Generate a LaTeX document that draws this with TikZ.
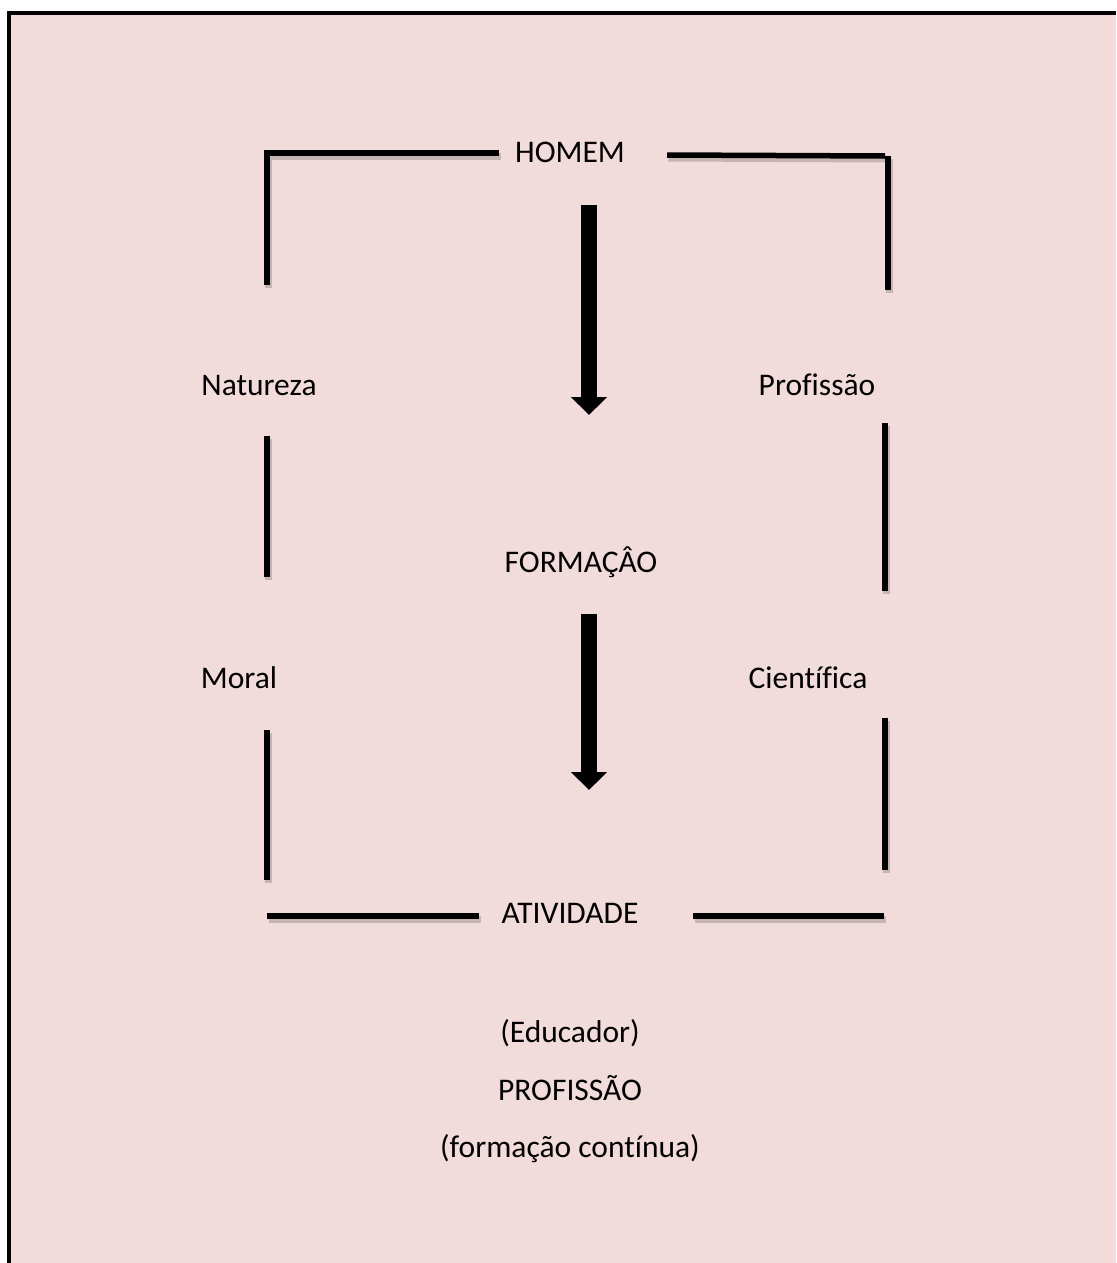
\documentclass[tikz,border=0pt]{standalone}
\usepackage{fontspec}
\setmainfont{Carlito}[Ligatures=NoCommon]
\usetikzlibrary{arrows.meta}
\definecolor{pagepink}{HTML}{F2DCDB}
\begin{document}
\begin{tikzpicture}[x=1pt,y=-1pt,
  txt/.style={font=\fontsize{31.5}{38}\selectfont, anchor=base, inner sep=0pt},
  barline/.style={line width=5.5pt, black, line join=miter},
  barshadow/.style={line width=7pt, black, opacity=0.18, line join=miter},
  flow/.style={line width=16pt, -{Triangle[width=35pt,length=18pt]}},
]
\useasboundingbox (0,0) rectangle (1116,1263);
% page background and the open frame (only top and left edges lie inside)
\fill[white] (0,0) rectangle (1116,1263);
\fill[pagepink] (9,13) rectangle (1116,1263);
\draw[line width=3.5pt] (1116,13) -- (9,13) -- (9,1263);

% labels
\node[txt] (homem) at (570,162) {HOMEM};
\node[txt] (natureza) at (259,395) {Natureza};
\node[txt] (profissao) at (817,395) {Profissão};
\node[txt] (formacao) at (581,572) {FORMAÇÂO};
\node[txt] (moral) at (239,688) {Moral};
\node[txt] (cientifica) at (808,688) {Científica};
\node[txt] (atividade) at (570,923) {ATIVIDADE};
\node[txt] (educador) at (570,1042) {(Educador)};
\node[txt] (profissaoB) at (570,1100) {PROFISSÃO};
\node[txt] (continua) at (570,1157) {(formação contínua)};

% frame segments around the scheme (shadow first, then the bar)
\foreach \seg in {
  {(499,153) -- (267,153) -- (267,285)},
  {(667,155) -- (885,156)},
  {(888,156) -- (888,290)},
  {(267,436) -- (267,577)},
  {(267,730) -- (267,880)},
  {(885,423) -- (885,591)},
  {(885,718) -- (885,870)},
  {(267,916) -- (479,916)},
  {(693,916) -- (884,916)}
}{
  \begin{scope}[shift={(1.5,3)}]
    \expandafter\draw\expandafter[barshadow]\seg;
  \end{scope}
  \expandafter\draw\expandafter[barline]\seg;
}

% block arrows
\coordinate (a1s) at (589,205);
\coordinate (a1e) at (589,415);
\coordinate (a2s) at (589,614);
\coordinate (a2e) at (589,790);
\draw[flow] (a1s) -- (a1e);
\draw[flow] (a2s) -- (a2e);
\end{tikzpicture}
\end{document}
